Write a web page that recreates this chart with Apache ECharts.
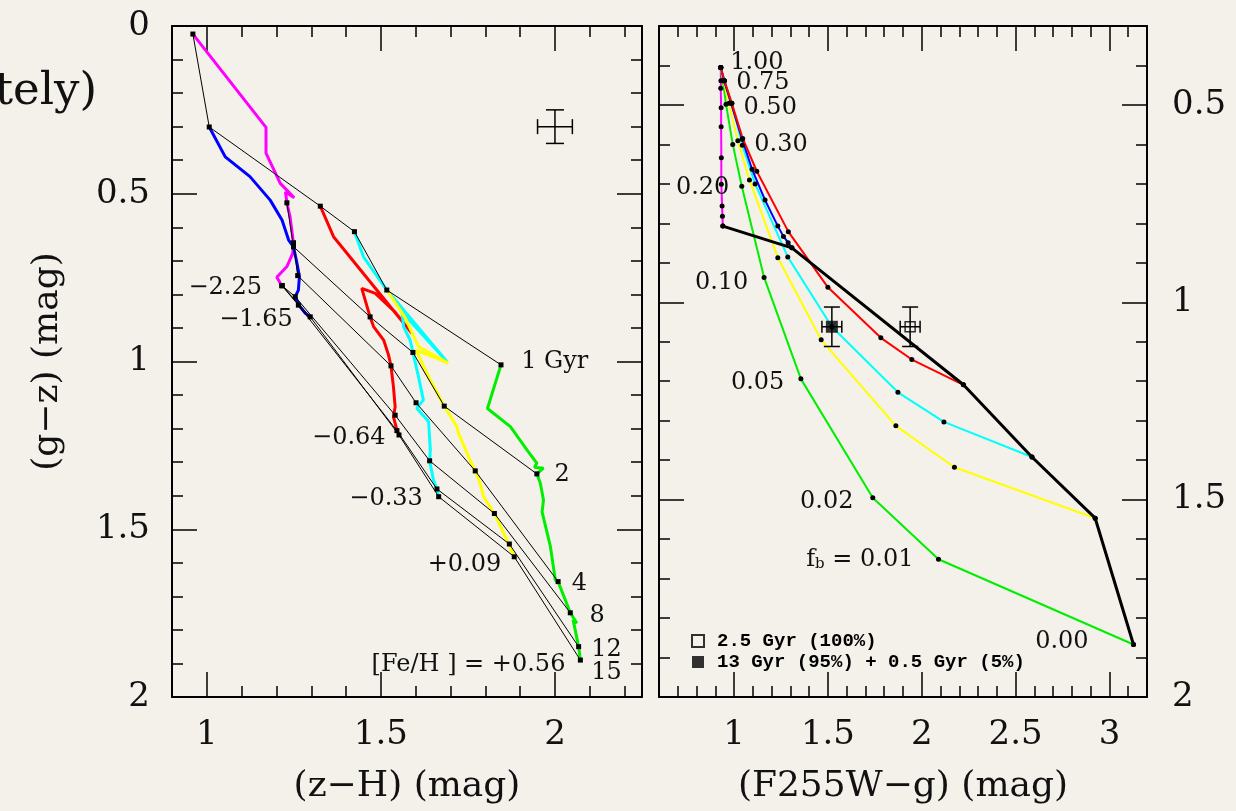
<!DOCTYPE html>
<html><head><meta charset="utf-8">
<script src="https://cdn.jsdelivr.net/npm/echarts@6/dist/echarts.min.js"></script>
<style>html,body{margin:0;padding:0;background:#f4f1eb;}#c{width:1236px;height:811px;}</style>
</head><body><div id="c"></div>
<script>
// ===================== DATA =====================
// [Fe/H] of each model track (magenta, blue, red, cyan, yellow, green)
const metalLabels = ['−2.25', '−1.65', '−0.64', '−0.33', '+0.09', '+0.56'];
const trackColors = ['#ff00ff', '#0000ff', '#ff0000', '#00ffff', '#ffff00', '#00ee00'];
// Ages (Gyr) marked along each track
const ages = [1, 2, 4, 8, 12, 15];

// Left panel: (z−H, g−z) tracks
const trackMagenta = [[0.960,0.024],[1.170,0.302],[1.170,0.379],[1.211,0.469],[1.225,0.484],[1.251,0.512],[1.226,0.495],[1.230,0.527],[1.239,0.568],[1.244,0.608],[1.249,0.648],[1.247,0.677],[1.230,0.717],[1.201,0.749],[1.216,0.775]];
const trackBlue = [[1.007,0.301],[1.053,0.390],[1.124,0.449],[1.182,0.519],[1.216,0.578],[1.235,0.638],[1.249,0.658],[1.259,0.707],[1.266,0.747],[1.263,0.787],[1.254,0.807],[1.268,0.837],[1.283,0.856],[1.297,0.867]];
const trackRed = [[1.326,0.537],[1.364,0.628],[1.589,0.916],[1.541,0.853],[1.484,0.797],[1.445,0.782],[1.469,0.867],[1.479,0.896],[1.508,0.936],[1.522,0.981],[1.529,1.013],[1.536,1.075],[1.541,1.135],[1.536,1.165],[1.546,1.204],[1.552,1.219]];
const trackCyan = [[1.424,0.613],[1.450,0.688],[1.517,0.787],[1.690,1.001],[1.561,0.853],[1.565,0.896],[1.584,0.936],[1.592,0.973],[1.608,1.045],[1.622,1.115],[1.603,1.139],[1.637,1.179],[1.642,1.264],[1.640,1.296],[1.651,1.353],[1.661,1.380],[1.666,1.403]];
const trackYellow = [[1.517,0.787],[1.570,0.870],[1.608,0.956],[1.694,1.005],[1.601,0.966],[1.637,1.045],[1.682,1.133],[1.718,1.194],[1.723,1.214],[1.752,1.284],[1.771,1.326],[1.785,1.363],[1.795,1.403],[1.826,1.453],[1.862,1.532],[1.883,1.582]];
const trackGreen = [[1.845,1.010],[1.806,1.140],[1.872,1.194],[1.920,1.264],[1.948,1.303],[1.941,1.315],[1.967,1.318],[1.948,1.335],[1.958,1.363],[1.967,1.413],[1.963,1.448],[1.987,1.552],[2.001,1.651],[2.009,1.656],[2.044,1.749],[2.063,1.780],[2.052,1.770],[2.068,1.850],[2.073,1.890]];

// Left panel: positions of the age nodes (1,2,4,8,12,15 Gyr) on each track
const nodesMagenta = [[0.960,0.024],[1.230,0.527],[1.249,0.646],[1.216,0.774],[1.216,0.774],[1.216,0.774]];
const nodesBlue = [[1.007,0.301],[1.249,0.658],[1.261,0.744],[1.254,0.807],[1.263,0.832],[1.297,0.867]];
const nodesRed = [[1.326,0.537],[1.469,0.867],[1.529,1.013],[1.541,1.160],[1.546,1.206],[1.552,1.219]];
const nodesCyan = [[1.424,0.613],[1.592,0.973],[1.601,1.123],[1.640,1.296],[1.661,1.380],[1.666,1.403]];
const nodesYellow = [[1.517,0.787],[1.682,1.133],[1.771,1.326],[1.826,1.453],[1.869,1.544],[1.883,1.582]];
const nodesGreen = [[1.845,1.010],[1.948,1.335],[2.009,1.656],[2.044,1.749],[2.068,1.850],[2.073,1.890]];

// Right panel: blue-fraction values f_b along each mixing line
const fbValues = [1.00, 0.75, 0.50, 0.30, 0.20, 0.10, 0.05, 0.02, 0.01, 0.00];
// Right panel: (F255W−g, g−z) at each f_b, per [Fe/H]
const fbMagenta = [[0.929,0.405],[0.930,0.439],[0.929,0.458],[0.931,0.507],[0.931,0.555],[0.932,0.634],[0.932,0.701],[0.936,0.756],[0.938,0.782],[0.940,0.807]];
const fbBlue = [[0.929,0.405],[0.947,0.439],[0.984,0.496],[1.043,0.587],[1.096,0.663],[1.165,0.741],[1.233,0.807],[1.263,0.833],[1.288,0.849],[1.308,0.862]];
const fbRed = [[0.929,0.405],[0.949,0.439],[0.988,0.496],[1.046,0.585],[1.121,0.668],[1.289,0.821],[1.500,0.962],[1.782,1.090],[1.947,1.145],[2.222,1.209]];
const fbCyan = [[0.929,0.405],[0.948,0.439],[0.988,0.496],[1.044,0.602],[1.112,0.700],[1.286,0.885],[1.521,1.062],[1.873,1.228],[2.118,1.303],[2.587,1.392]];
const fbYellow = [[0.929,0.405],[0.944,0.439],[0.973,0.496],[1.020,0.591],[1.082,0.690],[1.233,0.887],[1.464,1.095],[1.862,1.313],[2.174,1.418],[2.924,1.547]];
const fbGreen = [[0.929,0.405],[0.940,0.439],[0.957,0.498],[0.993,0.600],[1.041,0.706],[1.160,0.937],[1.356,1.194],[1.739,1.495],[2.089,1.651],[3.128,1.867]];

// Observed points with errors [x, y, xerr, yerr]
const obsNames = ['2.5 Gyr (100%)', '13 Gyr (95%) + 0.5 Gyr (5%)'];
const obsOpen = [[1.938, 1.062, 0.053, 0.05]];
const obsFilled = [[1.521, 1.062, 0.053, 0.05]];
const typicalError = [[2.0, 0.30, 0.05, 0.05]];

// Axis ticks
const leftXTicks = [1, 1.5, 2];
const leftYTicks = [0, 0.5, 1, 1.5, 2];
const rightXTicks = [1, 1.5, 2, 2.5, 3];
const rightYTicks = [0.5, 1, 1.5, 2];

// ===================== CHART =====================
const SERIF = '"DejaVu Serif", "Liberation Serif", serif';
function range(a, b, s) { const o = []; const n = Math.round((b - a) / s); for (let i = 0; i <= n; i++) o.push(Math.round((a + i * s) * 1000) / 1000); return o; }

function axisPair(dim, gridIndex, min, max, position, major, opts) {
  const minor = range(min, max, 0.1);
  const common = { type: 'value', gridIndex, min, max, position, inverse: dim === 'y', splitLine: { show: false }, silent: true };
  const labelOn = opts && opts.labels;
  const majorAxis = Object.assign({}, common, {
    axisLine: { show: true, onZero: false, lineStyle: { color: '#000', width: 2 } },
    axisTick: { show: true, inside: true, length: 25, customValues: major, lineStyle: { color: '#000', width: 1.5 } },
    axisLabel: labelOn ? Object.assign({ show: true, customValues: major, color: '#111', fontFamily: SERIF, fontSize: 34 }, opts.label) : { show: false },
  }, (opts && opts.extra) || {});
  const minorAxis = Object.assign({}, common, {
    axisLine: { show: false, onZero: false },
    axisTick: { show: true, inside: true, length: 11, customValues: minor, lineStyle: { color: '#000', width: 1.5 } },
    axisLabel: { show: false }
  });
  return [majorAxis, minorAxis];
}
const nameStyle = { color: '#111', fontFamily: SERIF, fontSize: 36 };

const xAxes = [
  ...axisPair('x', 0, 0.9, 2.25, 'bottom', leftXTicks, { labels: true, label: { margin: 21 }, extra: { name: '(z−H) (mag)', nameLocation: 'middle', nameGap: 72, nameTextStyle: nameStyle } }),
  ...axisPair('x', 0, 0.9, 2.25, 'top', leftXTicks),
  ...axisPair('x', 1, 0.6, 3.2, 'bottom', rightXTicks, { labels: true, label: { margin: 21 }, extra: { name: '(F255W−g) (mag)', nameLocation: 'middle', nameGap: 72, nameTextStyle: nameStyle } }),
  ...axisPair('x', 1, 0.6, 3.2, 'top', rightXTicks)
];
const yAxes = [
  ...axisPair('y', 0, 0, 2, 'left', leftYTicks, { labels: true, label: { margin: 22 }, extra: { name: '(g−z) (mag)', nameLocation: 'middle', nameGap: 106, nameRotate: 90, nameTextStyle: nameStyle } }),
  ...axisPair('y', 0, 0, 2, 'right', leftYTicks),
  ...axisPair('y', 1, 0.3, 2.0, 'left', rightYTicks),
  ...axisPair('y', 1, 0.3, 2.0, 'right', rightYTicks, { labels: true, label: { margin: 25, align: 'left' } })
];
const L = { xAxisIndex: 0, yAxisIndex: 0 };
const R = { xAxisIndex: 4, yAxisIndex: 4 };

const series = [];
const tracks = [trackMagenta, trackBlue, trackRed, trackCyan, trackYellow, trackGreen];
tracks.forEach((t, i) => series.push(Object.assign({ type: 'line', data: t, symbol: 'none', silent: true, z: 2, lineStyle: { color: trackColors[i], width: 3 } }, L)));

const nodes = [nodesMagenta, nodesBlue, nodesRed, nodesCyan, nodesYellow, nodesGreen];
ages.forEach((a, k) => series.push(Object.assign({
  type: 'line', data: nodes.map(n => n[k]), symbol: 'rect', symbolSize: 5, showAllSymbol: true, silent: true, z: 4,
  lineStyle: { color: '#000', width: 1 }, itemStyle: { color: '#000' }
}, L)));

const fbLines = [fbMagenta, fbGreen, fbYellow, fbCyan, fbBlue, fbRed];
const fbColors = [trackColors[0], trackColors[5], trackColors[4], trackColors[3], trackColors[1], trackColors[2]];
fbLines.forEach((t, i) => series.push(Object.assign({
  type: 'line', data: t, symbol: 'circle', symbolSize: 5, showAllSymbol: true, silent: true, z: 3,
  lineStyle: { color: fbColors[i], width: 2 }, itemStyle: { color: '#000' }
}, R)));
// locus of f_b = 0 ends
const zeroLocus = [fbMagenta, fbBlue, fbRed, fbCyan, fbYellow, fbGreen].map(a => a[a.length - 1]);
series.push(Object.assign({ type: 'line', data: zeroLocus, symbol: 'circle', symbolSize: 5, showAllSymbol: true, silent: true, z: 5,
  lineStyle: { color: '#000', width: 3 }, itemStyle: { color: '#000' } }, R));

function errorBars(ax, pts, capX, capY) {
  return Object.assign({
    type: 'custom', silent: true, z: 8, data: pts,
    renderItem(params, api) {
      const x = api.value(0), y = api.value(1), ex = api.value(2), ey = api.value(3);
      const c = api.coord([x, y]), l = api.coord([x - ex, y]), r = api.coord([x + ex, y]);
      const t = api.coord([x, y - ey]), b = api.coord([x, y + ey]);
      const st = { stroke: '#000', lineWidth: 1.5 };
      const seg = (x1, y1, x2, y2) => ({ type: 'line', shape: { x1, y1, x2, y2 }, style: st });
      return { type: 'group', children: [
        seg(l[0], c[1], r[0], c[1]), seg(c[0], t[1], c[0], b[1]),
        seg(l[0], c[1] - capX, l[0], c[1] + capX), seg(r[0], c[1] - capX, r[0], c[1] + capX),
        seg(c[0] - capY, t[1], c[0] + capY, t[1]), seg(c[0] - capY, b[1], c[0] + capY, b[1])
      ] };
    }
  }, ax);
}
series.push(errorBars(L, typicalError, 7.5, 9));
series.push(errorBars(R, obsOpen, 6, 8));
series.push(errorBars(R, obsFilled, 6, 8));
series.push(Object.assign({ type: 'scatter', name: obsNames[0], data: obsOpen.map(p => [p[0], p[1]]), symbol: 'rect', symbolSize: 10, z: 9, silent: true,
  itemStyle: { color: 'rgba(0,0,0,0)', borderColor: '#000', borderWidth: 1.5 } }, R));
series.push(Object.assign({ type: 'scatter', name: obsNames[1], data: obsFilled.map(p => [p[0], p[1]]), symbol: 'rect', symbolSize: 12, z: 9, silent: true,
  itemStyle: { color: '#000' } }, R));

// Annotations (text anchored in data coordinates)
const leftNotes = [
  { text: metalLabels[0], x: 1.053, y: 0.779, align: 'center' },
  { text: metalLabels[1], x: 1.141, y: 0.876, align: 'center' },
  { text: metalLabels[2], x: 1.408, y: 1.226, align: 'center' },
  { text: metalLabels[3], x: 1.515, y: 1.408, align: 'center' },
  { text: metalLabels[4], x: 1.740, y: 1.607, align: 'center' },
  { text: '[Fe/H ] = ' + metalLabels[5], x: 2.030, y: 1.905, align: 'right' },
  { text: ages[0] + ' Gyr', x: 1.903, y: 1.001, align: 'left' },
  { text: String(ages[1]), x: 1.999, y: 1.338, align: 'left' },
  { text: String(ages[2]), x: 2.048, y: 1.663, align: 'left' },
  { text: String(ages[3]), x: 2.099, y: 1.759, align: 'left' },
  { text: String(ages[4]), x: 2.104, y: 1.860, align: 'left' },
  { text: String(ages[5]), x: 2.104, y: 1.929, align: 'left' }
];
const fbTxt = i => fbValues[i].toFixed(2);
const rightNotes = [
  { text: fbTxt(0), x: 0.979, y: 0.392, align: 'left' },
  { text: fbTxt(1), x: 1.011, y: 0.443, align: 'left' },
  { text: fbTxt(2), x: 1.050, y: 0.507, align: 'left' },
  { text: fbTxt(3), x: 1.108, y: 0.600, align: 'left' },
  { text: fbTxt(4), x: 0.975, y: 0.710, align: 'right' },
  { text: fbTxt(5), x: 1.076, y: 0.951, align: 'right' },
  { text: fbTxt(6), x: 1.268, y: 1.205, align: 'right' },
  { text: fbTxt(7), x: 1.636, y: 1.505, align: 'right' },
  { text: '{t|f}{s|b}{t| = ' + fbTxt(8) + '}', x: 1.956, y: 1.653, align: 'right', rich: true },
  { text: fbTxt(9), x: 2.889, y: 1.860, align: 'right' }
];
function notes(ax, items) {
  return Object.assign({
    type: 'custom', silent: true, z: 10, data: items.map(d => [d.x, d.y]),
    renderItem(params, api) {
      const d = items[params.dataIndex];
      const p = api.coord([api.value(0), api.value(1)]);
      const style = { text: d.text, x: 0, y: 0, align: d.align, verticalAlign: 'middle', fill: '#111', fontFamily: SERIF, fontSize: 24 };
      if (d.rich) {
        style.rich = { t: { fontFamily: SERIF, fontSize: 24, lineHeight: 24, verticalAlign: 'middle', fill: '#111' },
                       s: { fontFamily: SERIF, fontSize: 15, lineHeight: 15, verticalAlign: 'bottom', padding: [17, 0, 0, 0], fill: '#111' } };
      }
      return { type: 'text', x: p[0], y: p[1], style };
    }
  }, ax);
}
series.push(notes(L, leftNotes));
series.push(notes(R, rightNotes));

const chart = echarts.init(document.getElementById('c'), null, { renderer: 'canvas' });
chart.setOption({
  backgroundColor: '#f4f1eb',
  animation: false,
  grid: [
    { left: 172, top: 26, width: 470, height: 671 },
    { left: 659, top: 26, width: 488, height: 671 }
  ],
  xAxis: xAxes,
  yAxis: yAxes,
  legend: {
    data: obsNames, left: 686, top: 626, orient: 'vertical', itemWidth: 12, itemHeight: 12, itemGap: 1,
    selectedMode: false,
    textStyle: { fontFamily: '"Liberation Mono", "DejaVu Sans Mono", monospace', fontWeight: 'bold', fontSize: 19, lineHeight: 20, color: '#000', padding: [0, 0, 0, 8] }
  },
  graphic: [{ type: 'text', left: -5, top: 70, silent: true, style: { text: 'tely)', fill: '#111', font: '45px "DejaVu Serif"' } }],
  series
});
</script>
</body></html>
